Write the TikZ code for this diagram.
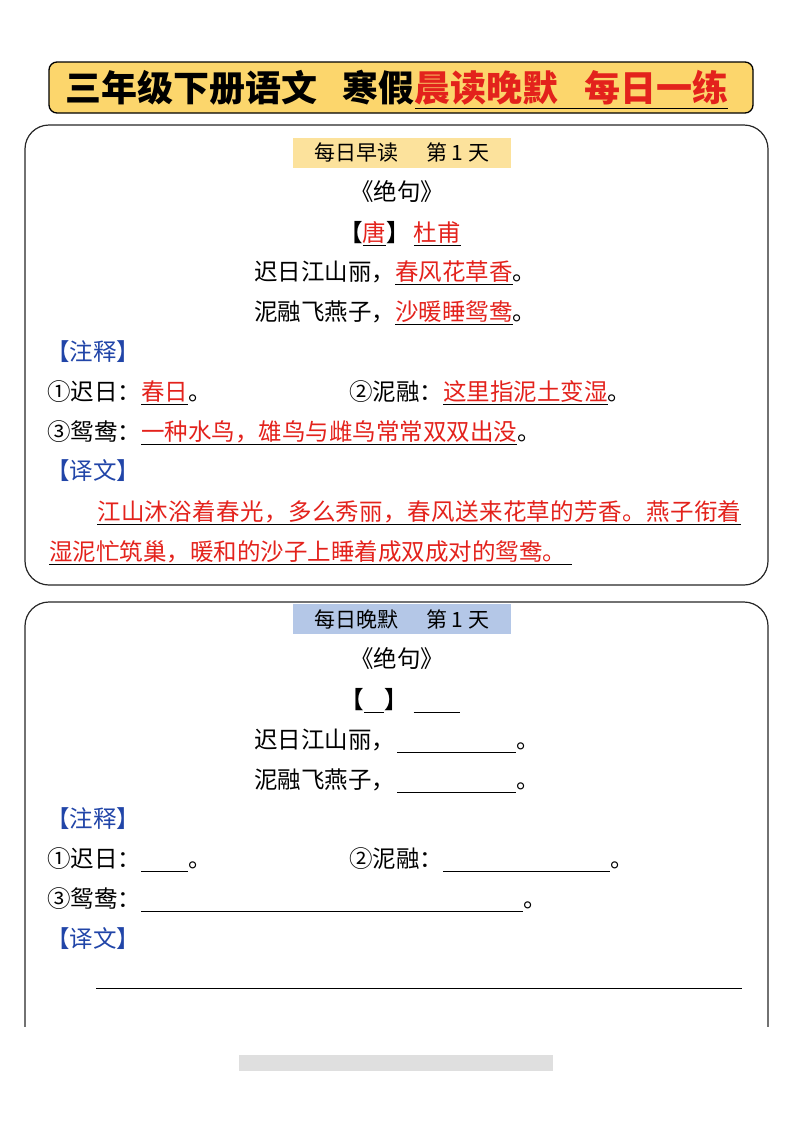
\documentclass[tikz,border=0pt]{standalone}
\usepackage{fontspec}
\setmainfont{Noto Sans CJK SC}
\usepackage{xcolor}
\definecolor{ansred}{HTML}{E3221C}
\definecolor{noteblue}{HTML}{2145A8}
\definecolor{titlefill}{HTML}{FCD66C}
\definecolor{morning}{HTML}{FCE29C}
\definecolor{evening}{HTML}{B4C7E7}
\newsavebox{\linedbox}
\newcommand{\lined}[2][5pt]{\sbox{\linedbox}{#2}\rlap{\rule[-#1]{\wd\linedbox}{1pt}}\usebox{\linedbox}}
\newcommand{\ans}[1]{\lined{\textcolor{ansred}{#1}}}
\newcommand{\blank}[1]{\rule[-5pt]{#1}{1pt}}

\begin{document}
\begin{tikzpicture}[x=1pt,y=-1pt,
  body/.style={anchor=base west, inner sep=0pt, font=\fontsize{23.5}{27}\selectfont},
  mid/.style={anchor=base, inner sep=0pt, font=\fontsize{23.5}{27}\selectfont},
  note/.style={body, text=noteblue},
  day/.style={minimum width=218pt, minimum height=30pt, inner sep=0pt, font=\fontsize{21}{25}\selectfont},
  card/.style={draw=black!85, line width=1.2pt, rounded corners=24pt}]
\useasboundingbox (0,0) rectangle (792,1122);

% title
\draw[fill=titlefill, line width=1.3pt, rounded corners=8pt] (49,62) rectangle (753,113);
\node[anchor=base, inner sep=0pt, font=\fontsize{36}{40}\selectfont\bfseries] (title) at (397,101) {三年级下册语文\hspace{0.7em}寒假\lined[8pt]{\textcolor{ansred}{晨读晚默\hspace{0.7em}每日一练}}};

% morning card
\draw[card] (25,125) rectangle (768,585);
\node[day, fill=morning] (head1) at (402,153) {每日早读\hspace{1.3em}第 1 天};
\node[mid] (poem1) at (397,200) {《绝句》};
\node[mid] (poet1) at (400,241) {\textbf{【}\ans{唐}\textbf{】}\hspace{4pt}\ans{杜甫}};
\node[body] (l1) at (254,280) {迟日江山丽，\ans{春风花草香}。};
\node[body] (l2) at (254,320) {泥融飞燕子，\ans{沙暖睡鸳鸯}。};
\node[note] (n1) at (46,360) {【注释】};
\node[body] (a1) at (47,400) {①迟日：\ans{春日}。};
\node[body] (a2) at (349,400) {②泥融：\ans{这里指泥土变湿}。};
\node[body] (a3) at (47,440) {③鸳鸯：\ans{一种水鸟，雄鸟与雌鸟常常双双出没}。};
\node[note] (t1) at (46,479) {【译文】};
\node[body, font={\fontsize{23.5}{27}\selectfont\addfontfeature{LetterSpace=1.6}}] (p1) at (97,520) {\ans{江山沐浴着春光，多么秀丽，春风送来花草的芳香。燕子衔着}};
\node[body] (p2) at (49,560) {\ans{湿泥忙筑巢，暖和的沙子上睡着成双成对的鸳鸯。\hspace{6pt}}};

% evening card
\begin{scope}
\clip (0,595) rectangle (792,1026);
\draw[card] (25,602) rectangle (768,1120);
\end{scope}
\node[day, fill=evening] (head2) at (402,619) {每日晚默\hspace{1.3em}第 1 天};
\node[mid] (poem2) at (397,667) {《绝句》};
\node[mid] (poet2) at (400,708) {\textbf{【}\blank{20pt}\textbf{】}\hspace{6pt}\blank{46pt}};
\node[body] (m1) at (254,748) {迟日江山丽，\hspace{2pt}\blank{119pt}。};
\node[body] (m2) at (254,788) {泥融飞燕子，\hspace{2pt}\blank{119pt}。};
\node[note] (n2) at (46,827) {【注释】};
\node[body] (b1) at (47,867) {①迟日：\blank{47pt}。};
\node[body] (b2) at (349,867) {②泥融：\blank{167pt}。};
\node[body] (b3) at (47,907) {③鸳鸯：\blank{382pt}。};
\node[note] (t2) at (46,947) {【译文】};
\draw[line width=1pt] (96,988) -- (742,988);

% faded mark
\fill[gray!25] (239,1055) rectangle (553,1071);
\end{tikzpicture}
\end{document}
